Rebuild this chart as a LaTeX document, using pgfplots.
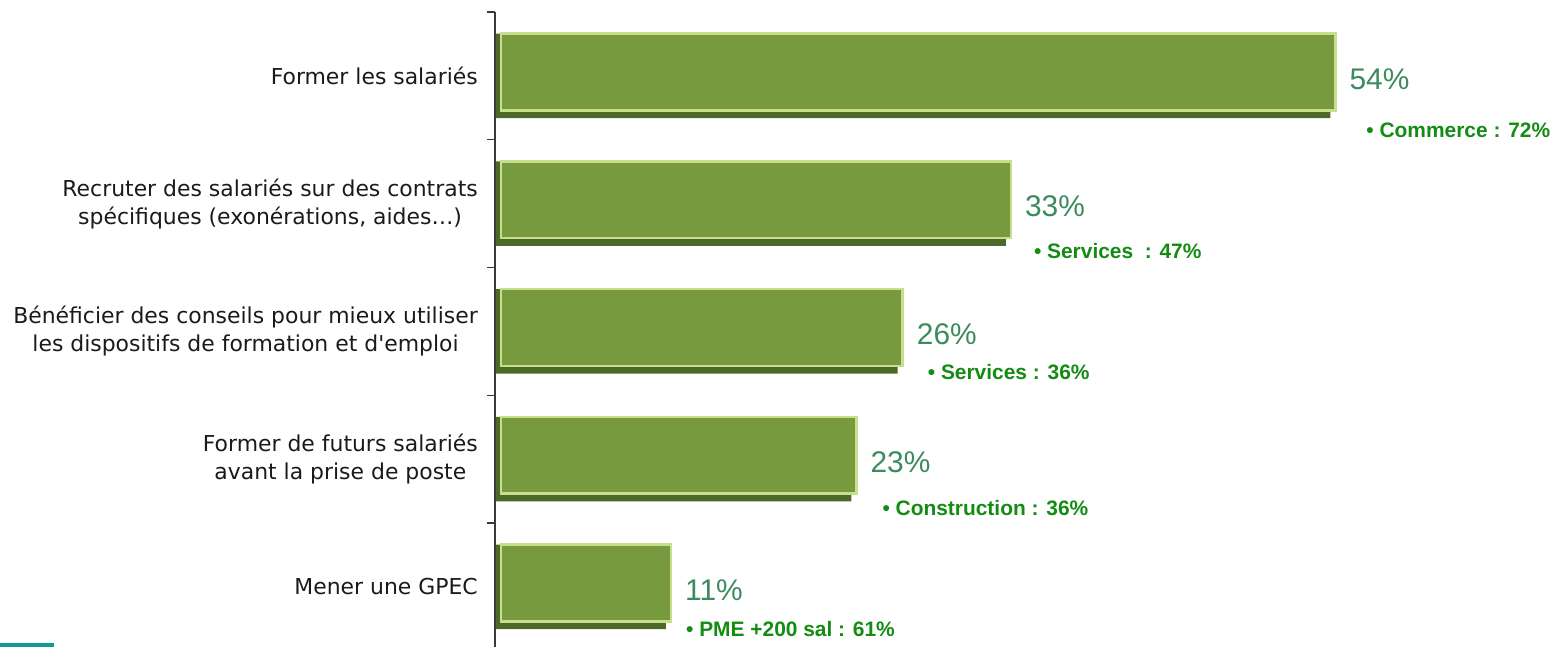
\documentclass[border=0pt]{standalone}
\usepackage{pgfplots}
\pgfplotsset{compat=1.18}
\usepackage{fontspec}
\setmainfont{DejaVu Sans}[Ligatures=TeXOff]
\newfontfamily\annfont{Liberation Sans}
\definecolor{barmid}{HTML}{789A3E}
\definecolor{bardark}{HTML}{4E6828}
\definecolor{barlight}{HTML}{C8DE8C}
\definecolor{valgreen}{HTML}{3B8B5E}
\definecolor{anngreen}{HTML}{148C14}
\definecolor{axisgrey}{HTML}{3A3A3A}
\definecolor{labelgrey}{HTML}{1A1A1A}
\definecolor{tealbox}{HTML}{0E9C98}
\begin{document}
\begin{tikzpicture}
\begin{axis}[
  scale only axis, width=1058bp, height=638.75bp,
  xmin=0, xmax=68.48, ymin=-0.5, ymax=4.5, y dir=reverse,
  axis x line=none, axis y line=left,
  axis line style={-, draw=axisgrey, line width=1.4bp},
  ytick={0,1,2,3,4},
  yticklabels={Former les salariés,
    {Recruter des salariés sur des contrats\\spécifiques (exonérations, aides…)},
    {Bénéficier des conseils pour mieux utiliser\\les dispositifs de formation et d'emploi},
    {Former de futurs salariés\\avant la prise de poste},
    Mener une GPEC},
  major tick length=0pt,
  minor ytick={-0.5,0.5,1.5,2.5,3.5},
  minor tick length=8bp, tick align=outside,
  every tick/.style={draw=axisgrey, line width=1.4bp},
  yticklabel style={font=\fontsize{22}{28}\selectfont, align=center, text=labelgrey, inner sep=0pt, xshift=-17bp},
  clip=false,
  /pgf/number format/assume math mode=true,
]
\coordinate (TL) at (axis cs:0,-0.5);
\addplot[xbar, bar width=0.66, fill=bardark, draw=none, xshift=1bp]
  coordinates {(54,0) (33,1) (26,2) (23,3) (11,4)};
\addplot[xbar, bar width=0.6, bar shift=-0.03, fill=barmid, draw=barlight, line width=2.5bp, xshift=6bp,
  point meta=x,
  nodes near coords={\pgfmathprintnumber{\pgfplotspointmeta}\%},
  every node near coord/.append style={anchor=west, inner sep=0pt, xshift=13bp, yshift=-3bp,
    text=valgreen, font=\annfont\fontsize{30}{34}\selectfont}]
  coordinates {(54,0) (33,1) (26,2) (23,3) (11,4)};
\begin{scope}[every node/.style={anchor=west, inner sep=0pt, text=anngreen, font=\annfont\bfseries\fontsize{21}{25}\selectfont}]
\node[xshift=37bp, yshift=-54bp] at (axis cs:54,0) {• Commerce : 72\%};
\node[xshift=29bp, yshift=-47bp] at (axis cs:33,1) {• Services\ \ : 47\%};
\node[xshift=31bp, yshift=-41bp] at (axis cs:26,2) {• Services : 36\%};
\node[xshift=32bp, yshift=-49bp] at (axis cs:23,3) {• Construction : 36\%};
\node[xshift=21bp, yshift=-42bp] at (axis cs:11,4) {• PME +200 sal : 61\%};
\end{scope}
\end{axis}
\fill[tealbox] ([xshift=-495bp,yshift=-631bp]TL) rectangle ([xshift=-441bp,yshift=-635bp]TL);
\pgfresetboundingbox
\path[use as bounding box] ([xshift=-495bp,yshift=12bp]TL) rectangle ([xshift=1058bp,yshift=-635bp]TL);
\end{tikzpicture}
\end{document}
